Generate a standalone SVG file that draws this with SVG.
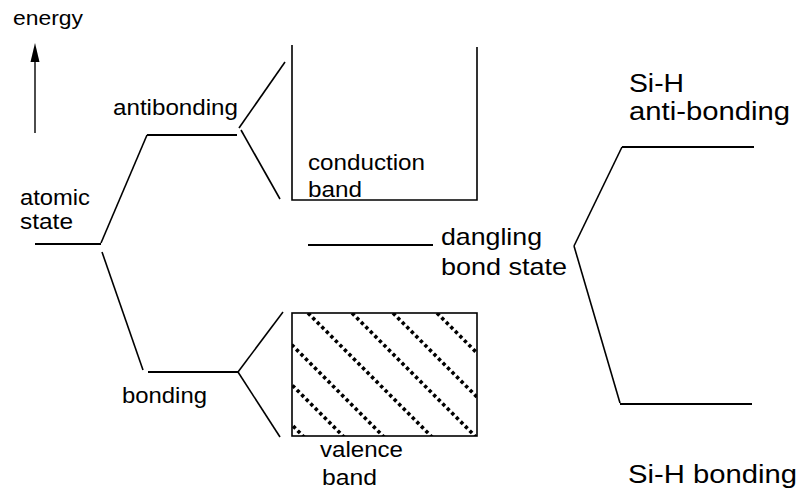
<svg xmlns="http://www.w3.org/2000/svg" width="800" height="491" viewBox="0 0 800 491">
  <defs>
    <style>
      text { font-family: "Liberation Sans", Arial, sans-serif; fill: #000; }
      .s19 { font-size: 20px; }
      .s21 { font-size: 22px; }
      .s23 { font-size: 24px; }
      .s25 { font-size: 26px; }
      .lvl { stroke: #000; stroke-width: 2; fill: none; }
      .con { stroke: #000; stroke-width: 1.6; fill: none; }
      .band { stroke: #000; stroke-width: 1.6; fill: none; }
      .dots { stroke: #000; stroke-width: 3.6; stroke-dasharray: 3.4 3; fill: none; }
    </style>
    <clipPath id="vbclip">
      <rect x="292" y="313" width="185" height="123"/>
    </clipPath>
  </defs>

  <g id="energy-axis">
    <text class="s19" x="13" y="25" textLength="70" lengthAdjust="spacingAndGlyphs">energy</text>
    <line x1="35" y1="133" x2="35" y2="58" stroke="#000" stroke-width="1.4"/>
    <polygon points="35,43 39.5,62 30.5,62" fill="#000"/>
  </g>

  <g id="atomic-state">
    <line class="lvl" x1="35" y1="244" x2="101" y2="244"/>
    <text class="s21" x="20" y="205" textLength="70" lengthAdjust="spacingAndGlyphs">atomic</text>
    <text class="s21" x="20" y="229" textLength="53" lengthAdjust="spacingAndGlyphs">state</text>
  </g>

  <g id="antibonding">
    <line class="lvl" x1="147" y1="135" x2="237" y2="135"/>
    <text class="s21" x="113" y="115" textLength="125" lengthAdjust="spacingAndGlyphs">antibonding</text>
  </g>

  <g id="bonding">
    <line class="lvl" x1="148" y1="372" x2="238" y2="372"/>
    <text class="s21" x="122" y="403" textLength="85" lengthAdjust="spacingAndGlyphs">bonding</text>
  </g>

  <g id="conduction-band">
    <path class="band" d="M292,45 L292,200 L477,200 L477,47"/>
    <text class="s21" x="308" y="170" textLength="117" lengthAdjust="spacingAndGlyphs">conduction</text>
    <text class="s21" x="308" y="197" textLength="54" lengthAdjust="spacingAndGlyphs">band</text>
  </g>

  <g id="valence-band">
    <g clip-path="url(#vbclip)">
      <line class="dots" x1="180" y1="313" x2="310" y2="443"/>
      <line class="dots" x1="220" y1="313" x2="350" y2="443"/>
      <line class="dots" x1="260" y1="313" x2="390" y2="443"/>
      <line class="dots" x1="308" y1="313" x2="438" y2="443"/>
      <line class="dots" x1="352" y1="313" x2="482" y2="443"/>
      <line class="dots" x1="393" y1="313" x2="523" y2="443"/>
      <line class="dots" x1="437" y1="313" x2="567" y2="443"/>
    </g>
    <rect class="band" x="292" y="313" width="185" height="123"/>
    <text class="s21" x="320" y="457" textLength="83" lengthAdjust="spacingAndGlyphs">valence</text>
    <text class="s21" x="322" y="485" textLength="55" lengthAdjust="spacingAndGlyphs">band</text>
  </g>

  <g id="dangling-bond">
    <line class="lvl" x1="308" y1="245" x2="433" y2="245"/>
    <text class="s23" x="441" y="245" textLength="101" lengthAdjust="spacingAndGlyphs">dangling</text>
    <text class="s23" x="441" y="275" textLength="126" lengthAdjust="spacingAndGlyphs">bond state</text>
  </g>

  <g id="sih-antibonding">
    <line class="lvl" x1="622" y1="147" x2="754" y2="147"/>
    <text class="s25" x="629" y="92" textLength="55" lengthAdjust="spacingAndGlyphs">Si-H</text>
    <text class="s25" x="629" y="120" textLength="161" lengthAdjust="spacingAndGlyphs">anti-bonding</text>
  </g>

  <g id="sih-bonding">
    <line class="lvl" x1="620" y1="404" x2="752" y2="404"/>
    <text class="s25" x="628" y="483" textLength="169" lengthAdjust="spacingAndGlyphs">Si-H bonding</text>
  </g>

  <g id="connectors">
    <line class="con" x1="101" y1="243" x2="147" y2="135"/>
    <line class="con" x1="102" y1="252" x2="143" y2="370"/>
    <line class="con" x1="239" y1="128" x2="285" y2="62"/>
    <line class="con" x1="241" y1="130" x2="280" y2="199"/>
    <line class="con" x1="238" y1="372" x2="283" y2="312"/>
    <line class="con" x1="238" y1="372" x2="280" y2="437"/>
    <line class="con" x1="574" y1="246" x2="622" y2="147"/>
    <line class="con" x1="574" y1="246" x2="620" y2="403"/>
  </g>
</svg>
